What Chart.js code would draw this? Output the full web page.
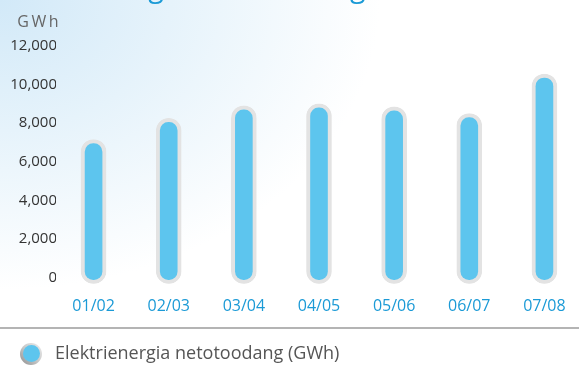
<!DOCTYPE html>
<html>
<head>
<meta charset="utf-8">
<script src="https://cdn.jsdelivr.net/npm/chart.js@4"></script>
<style>
  html, body { margin: 0; padding: 0; overflow: hidden; }
  body {
    width: 579px; height: 365px;
    background: radial-gradient(ellipse 380px 290px at 0 0, #d2e9f8 0%, #e6f3fb 45%, #ffffff 100%);
  }
  #wrap { position: relative; width: 582px; height: 365px; }
</style>
</head>
<body>
<div id="wrap"><canvas id="chart" width="582" height="365"></canvas></div>
<script>
const categories = ['01/02', '02/03', '03/04', '04/05', '05/06', '06/07', '07/08'];
const production = [7150, 8250, 8900, 9000, 8850, 8500, 10550];
const yTicks = [0, 2000, 4000, 6000, 8000, 10000, 12000];
const seriesName = 'Elektrienergia netotoodang (GWh)';
const heading = 'Elektrienergia netotoodang';
const unit = 'GWh';

const FONT = "'Open Sans', sans-serif";
const BLUE = '#5dc5ee';
const RIM = '#e3e3e3';

// legend marker: blue disc in a shaded grey ring, drawn a little right of centre
function legendMarker() {
  const c = document.createElement('canvas');
  c.width = 40; c.height = 24;
  const g = c.getContext('2d');
  const cx = 25, cy = 12;
  const ring = g.createLinearGradient(cx - 11, cy + 11, cx + 11, cy - 11);
  ring.addColorStop(0, '#8d8d8d');
  ring.addColorStop(0.5, '#c9c9c9');
  ring.addColorStop(1, '#eeeeee');
  g.fillStyle = ring;
  g.beginPath(); g.arc(cx, cy, 11, 0, Math.PI * 2); g.fill();
  g.fillStyle = BLUE;
  g.beginPath(); g.arc(cx + 0.5, cy - 0.5, 8.5, 0, Math.PI * 2); g.fill();
  return c;
}

// heading sits mostly above the canvas, unit label above the y ticks,
// thin rule between the plot and the legend
const extras = {
  id: 'extras',
  beforeDraw(chart) {
    const ctx = chart.ctx;
    ctx.save();
    ctx.font = '28.5px ' + FONT;
    ctx.fillStyle = '#1a9ad6';
    ctx.textBaseline = 'alphabetic';
    ctx.textAlign = 'left';
    ctx.fillText(heading, 4, -3);

    ctx.font = '16px ' + FONT;
    ctx.letterSpacing = '2.5px';
    ctx.fillStyle = '#666';
    ctx.textAlign = 'right';
    ctx.textBaseline = 'middle';
    ctx.fillText(unit, 61, 22);
    ctx.letterSpacing = '0px';

    ctx.fillStyle = '#b4b4b4';
    ctx.fillRect(0, 327, chart.width, 2);
    ctx.restore();
  }
};

new Chart(document.getElementById('chart'), {
  type: 'bar',
  data: {
    labels: categories,
    datasets: [{
      label: seriesName,
      data: production,
      base: -320,
      backgroundColor: BLUE,
      borderColor: RIM,
      borderWidth: 4,
      borderRadius: 13,
      borderSkipped: false,
      barThickness: 25
    }]
  },
  options: {
    responsive: false,
    animation: false,
    devicePixelRatio: 1,
    layout: { padding: { top: 46, left: 0, right: 0, bottom: -8 } },
    plugins: {
      legend: {
        position: 'bottom',
        align: 'start',
        labels: {
          usePointStyle: true,
          pointStyle: legendMarker(),
          pointStyleWidth: 40,
          boxHeight: 18,
          padding: 6,
          color: '#555',
          font: { family: FONT, size: 18 }
        }
      },
      tooltip: { enabled: false }
    },
    scales: {
      x: {
        afterFit(scale) { scale.height += 18; },
        grid: { display: false },
        border: { display: false },
        ticks: { color: '#1b9ad6', padding: 5, maxRotation: 0, autoSkip: false, font: { family: FONT, size: 16 } }
      },
      y: {
        min: -330,
        max: 12000,
        afterBuildTicks(scale) {
          scale.ticks = yTicks.map(v => ({ value: v }));
        },
        afterFit(scale) { scale.width = 56; },
        grid: { display: false },
        border: { display: false },
        ticks: {
          color: '#333',
          padding: -9,
          font: { family: FONT, size: 15 },
          callback: v => v.toLocaleString('en-US')
        }
      }
    }
  },
  plugins: [extras]
});
</script>
</body>
</html>
